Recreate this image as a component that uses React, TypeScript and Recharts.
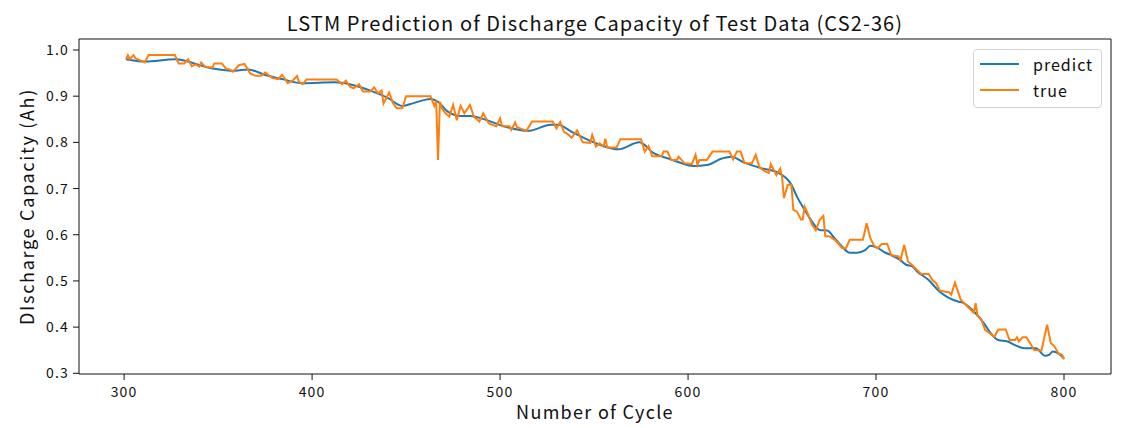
import { LineChart, Line, XAxis, YAxis } from 'recharts';

const trueCycles = [
  301, 302, 303, 305, 306, 311, 313, 327, 329, 332, 334, 336, 338, 340, 341, 343, 347, 348, 352, 354,
  356, 358, 361, 364, 366, 367, 370, 373, 375, 379, 382, 384, 386, 387, 390, 392, 393, 395, 397, 413,
  416, 418, 420, 422, 425, 427, 431, 433, 435, 437, 438, 441, 443, 445, 448, 450, 463, 465, 466, 467,
  468, 469, 471, 473, 475, 477, 479, 481, 484, 486, 489, 491, 494, 498, 500, 501, 505, 506, 508, 509,
  514, 517, 528, 530, 532, 534, 536, 538, 541, 544, 548, 549, 551, 553, 555, 556, 557, 562, 564, 575,
  577, 579, 581, 586, 587, 589, 591, 594, 595, 598, 602, 604, 605, 606, 610, 613, 622, 624, 626, 628,
  630, 634, 636, 638, 641, 643, 644, 647, 649, 650, 651, 653, 655, 656, 658, 660, 661, 662, 664, 666,
  668, 670, 672, 673, 675, 678, 680, 682, 684, 686, 693, 695, 697, 699, 701, 703, 706, 708, 712, 713,
  715, 717, 719, 721, 724, 728, 730, 732, 734, 739, 740, 742, 745, 749, 752, 753, 754, 756, 758, 760,
  763, 765, 769, 771, 774, 775, 776, 778, 780, 782, 784, 788, 791, 793, 795, 797, 799, 800,
];
const trueValues = [
  0.980, 0.989, 0.980, 0.989, 0.982, 0.973, 0.989, 0.989, 0.971, 0.971, 0.980, 0.965, 0.969, 0.964, 0.973, 0.964, 0.962, 0.971, 0.971, 0.960,
  0.958, 0.953, 0.967, 0.970, 0.957, 0.949, 0.944, 0.944, 0.951, 0.939, 0.937, 0.946, 0.935, 0.928, 0.935, 0.944, 0.931, 0.926, 0.936, 0.936,
  0.926, 0.934, 0.921, 0.917, 0.926, 0.910, 0.910, 0.919, 0.906, 0.912, 0.884, 0.908, 0.885, 0.874, 0.874, 0.900, 0.900, 0.879, 0.890, 0.762,
  0.888, 0.874, 0.863, 0.856, 0.881, 0.848, 0.879, 0.863, 0.881, 0.856, 0.845, 0.863, 0.841, 0.835, 0.852, 0.835, 0.835, 0.827, 0.843, 0.833,
  0.825, 0.845, 0.845, 0.830, 0.844, 0.823, 0.818, 0.810, 0.826, 0.800, 0.799, 0.816, 0.791, 0.798, 0.791, 0.808, 0.789, 0.789, 0.807, 0.807,
  0.780, 0.792, 0.770, 0.770, 0.780, 0.780, 0.762, 0.762, 0.769, 0.755, 0.753, 0.773, 0.751, 0.762, 0.762, 0.780, 0.780, 0.763, 0.780, 0.780,
  0.755, 0.755, 0.773, 0.746, 0.737, 0.734, 0.753, 0.729, 0.743, 0.726, 0.679, 0.708, 0.708, 0.654, 0.650, 0.633, 0.633, 0.661, 0.643, 0.621,
  0.610, 0.632, 0.641, 0.597, 0.597, 0.589, 0.581, 0.571, 0.571, 0.589, 0.589, 0.625, 0.592, 0.576, 0.571, 0.580, 0.580, 0.556, 0.553, 0.545,
  0.578, 0.542, 0.535, 0.527, 0.515, 0.515, 0.502, 0.495, 0.479, 0.475, 0.470, 0.496, 0.460, 0.443, 0.431, 0.452, 0.424, 0.417, 0.394, 0.388,
  0.379, 0.395, 0.395, 0.372, 0.372, 0.378, 0.369, 0.378, 0.378, 0.365, 0.351, 0.349, 0.405, 0.365, 0.358, 0.343, 0.340, 0.330,
];

// LSTM output
const predictCycles = [
  301, 311, 327, 347, 359, 366, 375, 384, 395, 412, 420, 431, 440, 448, 454, 463, 467, 472, 479, 484,
  493, 502, 515, 527, 531, 538, 546, 555, 563, 574, 582, 591, 603, 610, 618, 623, 630, 639, 648, 655,
  658, 662, 666, 670, 674, 678, 682, 686, 690, 694, 697, 701, 705, 708, 713, 716, 719, 722, 728, 733,
  738, 744, 746, 753, 758, 761, 765, 770, 774, 779, 785, 790, 792, 794, 797, 800,
];
const predictValues = [
  0.980, 0.975, 0.980, 0.960, 0.955, 0.958, 0.946, 0.937, 0.928, 0.930, 0.926, 0.912, 0.897, 0.879, 0.885, 0.894, 0.888, 0.867, 0.857, 0.857,
  0.848, 0.835, 0.825, 0.838, 0.838, 0.823, 0.807, 0.792, 0.785, 0.800, 0.776, 0.763, 0.749, 0.751, 0.765, 0.769, 0.756, 0.744, 0.734, 0.708,
  0.682, 0.654, 0.628, 0.610, 0.609, 0.592, 0.574, 0.561, 0.561, 0.566, 0.576, 0.571, 0.561, 0.556, 0.545, 0.535, 0.532, 0.520, 0.502, 0.480,
  0.465, 0.455, 0.453, 0.430, 0.405, 0.387, 0.372, 0.369, 0.361, 0.354, 0.354, 0.338, 0.340, 0.347, 0.343, 0.332,
];

const xTicks = [300, 400, 500, 600, 700, 800];
const yTicks = [0.3, 0.4, 0.5, 0.6, 0.7, 0.8, 0.9, 1.0];
const seriesNames = ['predict', 'true'];

const trueData = trueCycles.map((cycle, i) => ({ cycle, capacity: trueValues[i] }));
const predictData = predictCycles.map((cycle, i) => ({ cycle, capacity: predictValues[i] }));

const FONT = '"Noto Sans CJK JP", "Noto Sans", sans-serif';
const INK = '#111';
const BLUE = '#1f77b4';
const ORANGE = '#ff7f0e';
const X_DOMAIN = [276, 825];
const Y_DOMAIN = [0.2985, 1.0238];

function LegendBox() {
  const colors = [BLUE, ORANGE];
  return (
    <div
      style={{
        position: 'absolute',
        left: 973,
        top: 49,
        width: 127,
        height: 57,
        border: '1px solid #d4d4d4',
        borderRadius: 4,
        background: '#fff',
        fontFamily: FONT,
        fontSize: 16,
        letterSpacing: 1,
        color: INK,
      }}
    >
      {seriesNames.map((name, i) => (
        <div key={name} style={{ position: 'absolute', left: 0, top: 2 + i * 26, height: 24, display: 'flex', alignItems: 'center' }}>
          <span style={{ display: 'inline-block', width: 39, height: 2, background: colors[i], marginLeft: 6, marginRight: 14 }} />
          <span>{name}</span>
        </div>
      ))}
    </div>
  );
}

export default function App() {
  return (
    <div style={{ position: 'absolute', left: 0, top: 0, width: 1138, height: 428, background: '#fff' }}>
      <LineChart width={1138} height={428} margin={{ top: 0, right: 0, bottom: 0, left: 0 }}>
        <XAxis
          xAxisId="top"
          orientation="top"
          type="number"
          dataKey="cycle"
          domain={X_DOMAIN}
          allowDataOverflow
          height={39}
          tick={false}
          tickLine={false}
          axisLine={{ stroke: INK }}
          label={{
            value: 'LSTM Prediction of Discharge Capacity of Test Data (CS2-36)',
            position: 'insideBottom',
            offset: 8,
            style: { fontFamily: FONT, fontSize: 20, letterSpacing: 1.1, fill: INK },
          }}
        />
        <XAxis
          type="number"
          dataKey="cycle"
          domain={X_DOMAIN}
          allowDataOverflow
          ticks={xTicks}
          height={54}
          tickSize={6}
          tickMargin={7}
          stroke={INK}
          tick={{ fill: INK, fontSize: 14, fontFamily: FONT, letterSpacing: 1.2 }}
          label={{
            value: 'Number of Cycle',
            position: 'insideBottom',
            offset: 9,
            style: { fontFamily: FONT, fontSize: 18, letterSpacing: 1.3, fill: INK },
          }}
        />
        <YAxis
          type="number"
          domain={Y_DOMAIN}
          allowDataOverflow
          ticks={yTicks}
          width={79}
          tickSize={6}
          tickMargin={4}
          stroke={INK}
          tickFormatter={(v) => v.toFixed(1)}
          tick={{ fill: INK, fontSize: 14, fontFamily: FONT, letterSpacing: 1.2 }}
          label={{
            value: 'DIscharge Capacity (Ah)',
            angle: -90,
            position: 'insideLeft',
            offset: 28,
            style: { textAnchor: 'middle', fontFamily: FONT, fontSize: 18, letterSpacing: 1.7, fill: INK },
          }}
        />
        <YAxis
          yAxisId="right"
          orientation="right"
          type="number"
          domain={Y_DOMAIN}
          width={27}
          tick={false}
          tickLine={false}
          axisLine={{ stroke: INK }}
        />
        <Line
          data={predictData}
          dataKey="capacity"
          name={seriesNames[0]}
          type="monotone"
          stroke={BLUE}
          strokeWidth={2}
          dot={false}
          isAnimationActive={false}
        />
        <Line
          data={trueData}
          dataKey="capacity"
          name={seriesNames[1]}
          type="linear"
          stroke={ORANGE}
          strokeWidth={2}
          dot={false}
          isAnimationActive={false}
        />
      </LineChart>
      <LegendBox />
    </div>
  );
}
